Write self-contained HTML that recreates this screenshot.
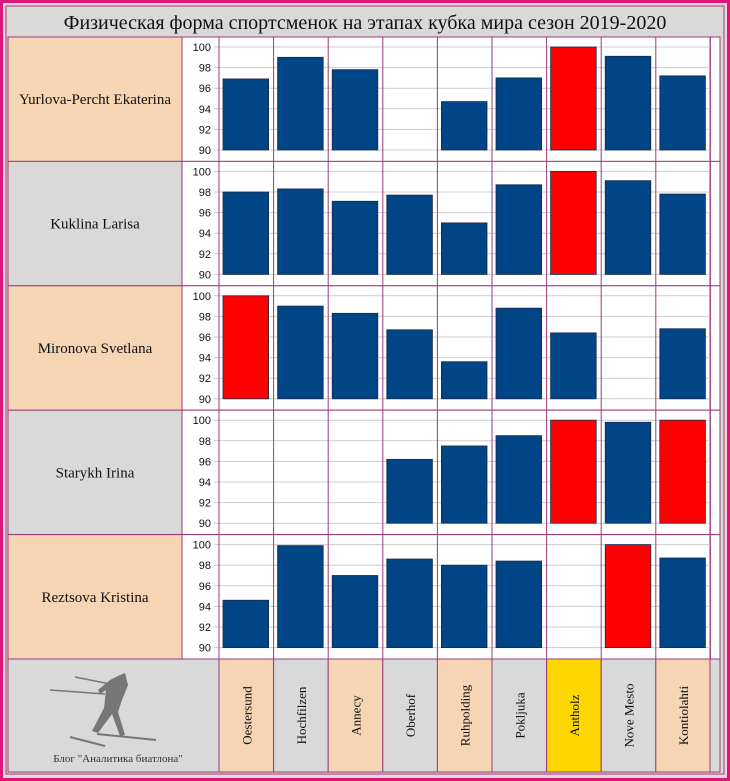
<!DOCTYPE html>
<html><head><meta charset="utf-8"><style>
body{margin:0;background:#fff;}
svg{display:block;font-family:"Liberation Serif","Noto Serif CJK SC",serif;}
</style></head><body>
<svg id="c" width="730" height="781" viewBox="0 0 730 781">
<rect x="1.5" y="1.5" width="727" height="778" fill="#dcdcdc" stroke="#e0157a" stroke-width="3"/>
<rect x="6" y="6" width="718" height="768" fill="#d9d9d9" stroke="#c03070" stroke-width="1"/>
<text x="365" y="29" text-anchor="middle" font-size="20" fill="#111">Физическая форма спортсменок на этапах кубка мира сезон 2019-2020</text>
<g id="g"></g>
<g fill="#777" stroke="#777">
<line x1="50" y1="690" x2="105" y2="694" stroke-width="1.5"/>
<line x1="75" y1="677" x2="110" y2="684" stroke-width="1.5"/>
<line x1="70" y1="737" x2="105" y2="746" stroke-width="2"/>
<line x1="97" y1="734" x2="156" y2="740" stroke-width="2"/>
<path d="M125 673 L128 685 L122 700 L118 712 L125 735 L120 736 L112 714 L98 733 L92 731 L104 708 L106 690 L100 694 L98 690 L110 680 L118 676 Z" stroke="none"/>
</g>
<text x="118" y="762" text-anchor="middle" font-size="11" fill="#333">Блог "Аналитика биатлона"</text>
</svg>
<script>
const athletes=["Yurlova-Percht Ekaterina","Kuklina Larisa","Mironova Svetlana","Starykh Irina","Reztsova Kristina"];
const stages=["Oestersund","Hochfilzen","Annecy","Oberhof","Ruhpolding","Pokljuka","Antholz","Nove Mesto","Kontiolahti"];
const yTicks=[90,92,94,96,98,100];
const s1=[96.9,99.0,97.8,null,94.7,97.0,100,99.1,97.2];
const s2=[98.0,98.3,97.1,97.7,95.0,98.7,100,99.1,97.8];
const s3=[100,99.0,98.3,96.7,93.6,98.8,96.4,null,96.8];
const s4=[null,null,null,96.2,97.5,98.5,100,99.8,100];
const s5=[94.6,99.9,97.0,98.6,98.0,98.4,null,100,98.7];
const series=[s1,s2,s3,s4,s5];
const NS="http://www.w3.org/2000/svg";
const g=document.getElementById('g');
const X0=219,CW=54.6,RT=37,RH=124.4;
function el(t,a,p){const e=document.createElementNS(NS,t);for(const k in a)e.setAttribute(k,a[k]);(p||g).appendChild(e);return e;}
function y(v,r){return RT+r*RH+10+(100-v)/10*103;}
function x(i){return X0+i*CW;}
const rowBg=["#f5d5b3","#d9d9d9","#f5d5b3","#d9d9d9","#f5d5b3"];
athletes.forEach((n,r)=>{
 const top=RT+r*RH;
 const lc=el('rect',{x:8,y:top,width:174,height:RH,fill:rowBg[r],stroke:'#9b3a7a','stroke-width':1});
 
 
 const pa=el('rect',{x:182,y:top,width:528,height:RH,fill:'#fff',stroke:'#9b3a7a','stroke-width':1});
 
 
 const sl=el('rect',{x:710,y:top,width:10,height:RH,fill:'#fff',stroke:'#9b3a7a','stroke-width':1});
 
 
 const t=el('text',{x:95,y:top+RH/2+5,'text-anchor':'middle','font-size':15,fill:'#111'});
 t.textContent=n;
 
 
 yTicks.forEach(v=>{
  const gl=el('line',{x1:214,x2:710,y1:y(v,r),y2:y(v,r),stroke:'#ccc','stroke-width':1});
  
  
  const tl=el('text',{x:211,y:y(v,r)+4,'text-anchor':'end','font-size':11,fill:'#111','font-family':'Liberation Sans,sans-serif'});
  tl.textContent=v;
  
  
 });
 series[r].forEach((v,i)=>{
  if(v===null)return;
  const b=el('rect',{x:x(i)+4,y:y(v,r),width:CW-9,height:y(90,r)-y(v,r),fill:v>=100?'#ff0000':'#004586',stroke:'#1a2a4a','stroke-width':0.8});
  
  
 });
 for(let i=0;i<=9;i++){
  const vl=el('line',{x1:x(i),x2:x(i),y1:top,y2:top+RH,stroke:'#9b3a7a','stroke-width':1});
  
  
 }
});
const bt=RT+5*RH, bh=772-bt;
const lg=el('rect',{x:8,y:bt,width:211,height:bh,fill:'#d9d9d9',stroke:'#9b3a7a','stroke-width':1});


const colBg=["#f5d5b3","#d9d9d9","#f5d5b3","#d9d9d9","#f5d5b3","#d9d9d9","#ffd700","#d9d9d9","#f5d5b3"];
stages.forEach((s,i)=>{
 const c=el('rect',{x:x(i),y:bt,width:CW,height:bh,fill:colBg[i],stroke:'#9b3a7a','stroke-width':1});
 
 
 const cx=x(i)+CW/2+5, cy=bt+bh/2;
 const t=el('text',{x:cx,y:cy,'text-anchor':'middle','font-size':13,fill:'#111',transform:`rotate(-90 ${cx} ${cy})`});
 t.textContent=s;
 
 
});
const sp=el('rect',{x:710,y:bt,width:10,height:bh,fill:'#d9d9d9',stroke:'#9b3a7a','stroke-width':1});


</script>
</body></html>
